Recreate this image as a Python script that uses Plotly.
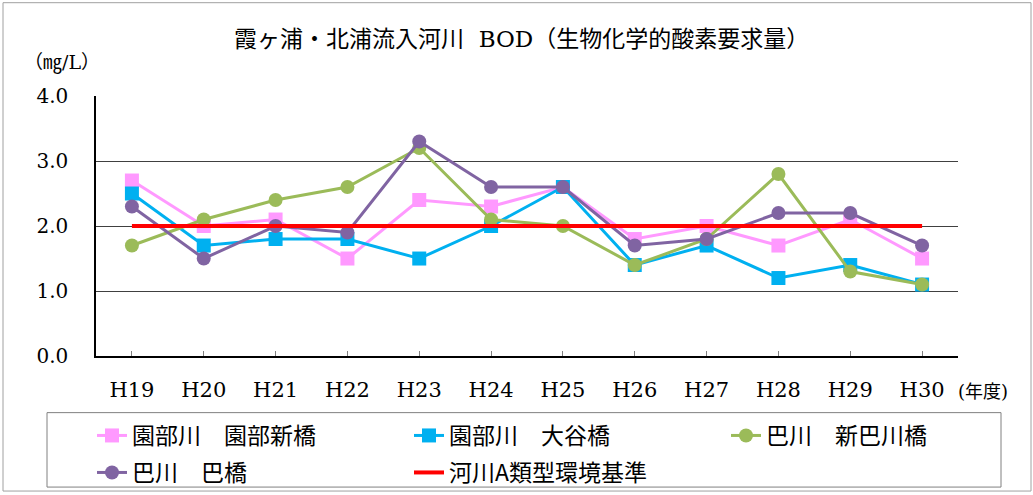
'''
    Line chart of BOD in rivers flowing into Kasumigaura / Kitaura.
'''
import plotly.graph_objects as go

years = ["H19", "H20", "H21", "H22", "H23", "H24",
         "H25", "H26", "H27", "H28", "H29", "H30"]

sonobe_shin = [2.7, 2.0, 2.1, 1.5, 2.4, 2.3, 2.6, 1.8, 2.0, 1.7, 2.1, 1.5]
sonobe_oya = [2.5, 1.7, 1.8, 1.8, 1.5, 2.0, 2.6, 1.4, 1.7, 1.2, 1.4, 1.1]
tomoe_shin = [1.7, 2.1, 2.4, 2.6, 3.2, 2.1, 2.0, 1.4, 1.8, 2.8, 1.3, 1.1]
tomoe = [2.3, 1.5, 2.0, 1.9, 3.3, 2.6, 2.6, 1.7, 1.8, 2.2, 2.2, 1.7]
standard = [2.0] * len(years)

FONT = "DejaVu Serif, Noto Sans CJK JP"
W, H = 1033, 495

fig = go.Figure()

# name, values, colour, marker, legend id
series = [
    ("園部川　園部新橋", sonobe_shin, "#FF99FF", "square", "legend"),
    ("園部川　大谷橋", sonobe_oya, "#00B0F0", "square", "legend2"),
    ("巴川　新巴川橋", tomoe_shin, "#9BBB59", "circle", "legend3"),
    ("巴川　巴橋", tomoe, "#8064A2", "circle", "legend4"),
]
for name, vals, color, symbol, leg in series:
    fig.add_trace(go.Scatter(
        x=years, y=vals, name=name, mode="lines+markers",
        line=dict(color=color, width=3),
        marker=dict(symbol=symbol, size=14, color=color),
        legend=leg,
    ))

fig.add_trace(go.Scatter(
    x=years, y=standard, name="河川A類型環境基準", mode="lines",
    line=dict(color="#FF0000", width=4),
    legend="legend5",
))


def legend_at(px, py):
    # one legend entry placed by its pixel position in the page
    return dict(
        orientation="h", xref="container", yref="container",
        x=px / W, xanchor="left", y=1 - py / H, yanchor="top",
        bgcolor="rgba(0,0,0,0)", borderwidth=0,
        font=dict(family="Noto Sans CJK JP", size=23),
    )


fig.update_layout(
    width=W, height=H,
    margin=dict(l=96, r=75, t=96, b=137),
    paper_bgcolor="white", plot_bgcolor="white",
    font=dict(family=FONT, size=20, color="black"),
    title=dict(
        text="霞ヶ浦・北浦流入河川  BOD（生物化学的酸素要求量）",
        x=0.505, xanchor="center", y=0.922, yanchor="middle",
        font=dict(family="DejaVu Serif, Noto Sans CJK JP", size=23),
    ),
    showlegend=True,
    legend=legend_at(92, 414),
    legend2=legend_at(409, 414),
    legend3=legend_at(726, 414),
    legend4=legend_at(92, 451),
    legend5=legend_at(409, 451),
    xaxis=dict(
        range=[-0.5, 11.5],
        showgrid=False,
        showline=True, linecolor="black", linewidth=1.5,
        ticks="inside", ticklen=5, tickcolor="#808080",
        tickfont=dict(size=21),
        ticklabelstandoff=14,
    ),
    yaxis=dict(
        range=[0, 4],
        tickvals=[0, 1, 2, 3, 4],
        ticktext=["0.0", "1.0", "2.0", "3.0", "4.0"],
        showgrid=True, gridcolor="#404040", gridwidth=1,
        showline=True, linecolor="black", linewidth=1.5,
        zeroline=False,
        tickfont=dict(size=20),
        ticklabelstandoff=22,
    ),
    annotations=[
        dict(text="（㎎/L）", xref="paper", yref="paper",
             x=-0.04, y=1.13, xanchor="center", yanchor="middle",
             showarrow=False, font=dict(size=19)),
        dict(text="(年度)", xref="paper", yref="paper",
             x=0.998, y=-0.135, xanchor="left", yanchor="middle",
             showarrow=False, font=dict(size=18)),
    ],
)

# legend frame
fig.add_shape(type="rect", xref="paper", yref="paper",
              x0=(47 - 96) / 862, x1=(1001 - 96) / 862,
              y0=(358 - 490) / 262, y1=(358 - 415) / 262,
              line=dict(color="#808080", width=1))

# outer frame around the whole chart
fig.add_shape(type="rect", xref="paper", yref="paper",
              x0=(3 - 96) / 862, x1=(1031 - 96) / 862,
              y0=(358 - 494) / 262, y1=(358 - 2) / 262,
              line=dict(color="#A0A0A0", width=1))

fig.write_html("out.html", config={"displayModeBar": False},
               post_script="document.body.style.margin='0px';")
